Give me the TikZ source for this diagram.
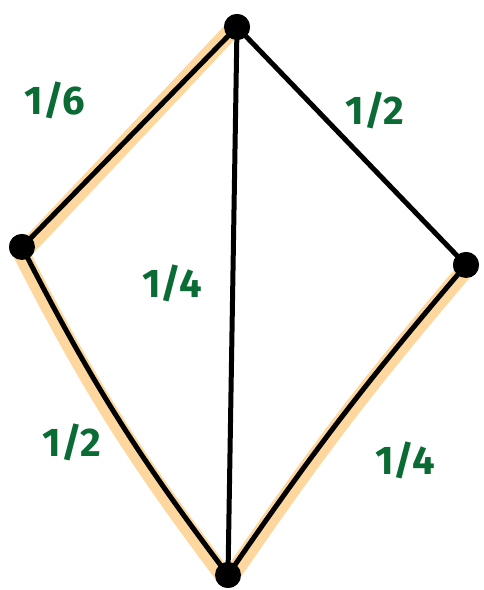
\documentclass[tikz,border=0pt]{standalone}
\usepackage{fontspec}
\setsansfont{Fira Sans}
\definecolor{hl}{HTML}{FDD79E}
\definecolor{lab}{HTML}{0B6B35}
\begin{document}
\begin{tikzpicture}[x=1pt,y=1pt,
  dot/.style={circle,fill=black,inner sep=0pt,minimum size=26pt},
  edge/.style={line width=5pt,line cap=round,black},
  glow/.style={line width=17pt,line cap=round,hl},
  lbl/.style={text=lab,font=\sffamily\bfseries\fontsize{40}{40}\selectfont}]
\useasboundingbox (0,0) rectangle (484,590);
\node[dot] (t) at (237,563) {};
\node[dot] (l) at (22,343) {};
\node[dot] (r) at (466,325) {};
\node[dot] (b) at (228,15) {};
% highlights
\draw[glow] ([xshift=-5pt,yshift=-3pt]t.center) -- ([xshift=0pt,yshift=-6pt]l.center);
\draw[glow] ([xshift=-4pt]l.center) to[bend right=5] ([xshift=-5pt]b.center);
\draw[glow] ([xshift=4pt]b.center) to[bend left=3] ([yshift=-4pt]r.center);
% edges
\draw[edge] (t.center) -- (l.center);
\draw[edge] (t.center) -- (r.center);
\draw[edge] (l.center) to[bend right=5] (b.center);
\draw[edge] (b.center) to[bend left=3] (r.center);
\draw[edge] (t.center) -- (b.center);
\node[dot] at (t) {};
\node[dot] at (l) {};
\node[dot] at (r) {};
\node[dot] at (b) {};
% labels
\node[lbl] (l1) at (55,490) {1/6};
\node[lbl] (l2) at (375,480) {1/2};
\node[lbl] (l3) at (172,307) {1/4};
\node[lbl] (l4) at (72,148) {1/2};
\node[lbl] (l5) at (405,130) {1/4};
\end{tikzpicture}
\end{document}
